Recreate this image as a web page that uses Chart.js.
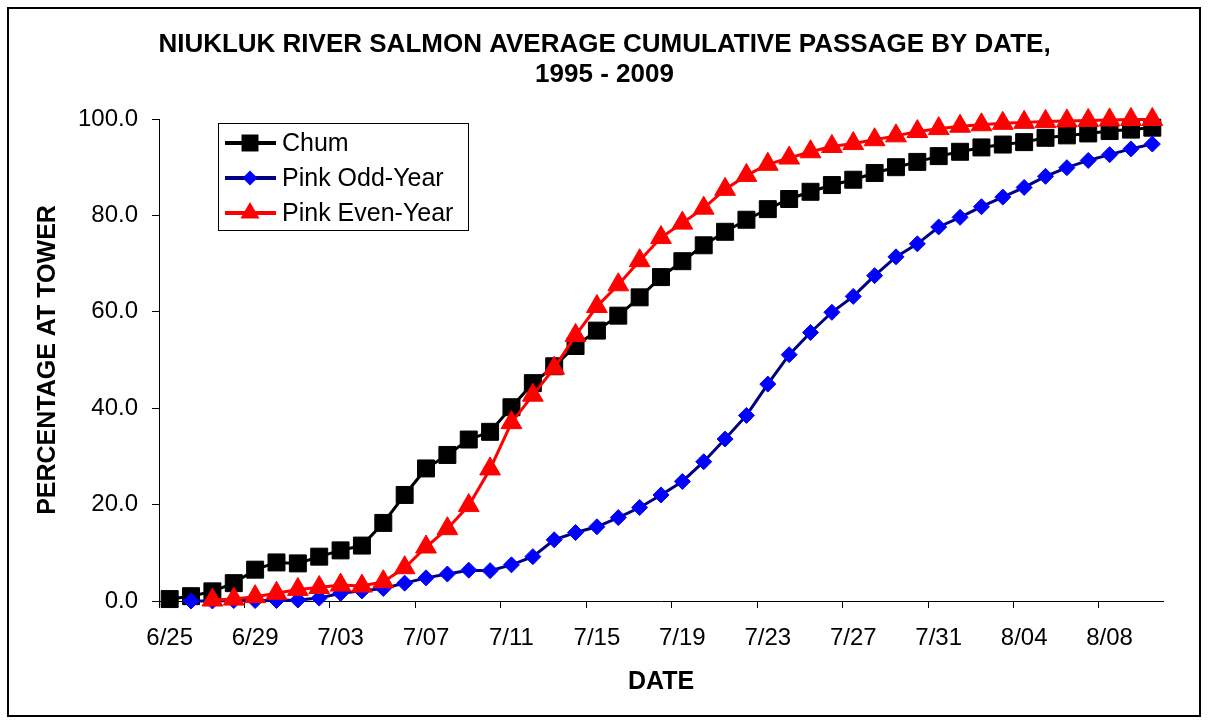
<!DOCTYPE html>
<html>
<head>
<meta charset="utf-8">
<script src="https://cdn.jsdelivr.net/npm/chart.js@4.4.1/dist/chart.umd.min.js"></script>
<style>
    body { margin: 0; background: #fff; }
    #wrap { width: 1209px; height: 723px; position: relative; }
</style>
</head>
<body>
<div id="wrap"><canvas id="passageChart"></canvas></div>
<script>
const dates = ['6/25', '6/26', '6/27', '6/28', '6/29', '6/30',
    '7/01', '7/02', '7/03', '7/04', '7/05', '7/06', '7/07', '7/08', '7/09', '7/10',
    '7/11', '7/12', '7/13', '7/14', '7/15', '7/16', '7/17', '7/18', '7/19', '7/20',
    '7/21', '7/22', '7/23', '7/24', '7/25', '7/26', '7/27', '7/28', '7/29', '7/30', '7/31',
    '8/01', '8/02', '8/03', '8/04', '8/05', '8/06', '8/07', '8/08', '8/09', '8/10'];
const tickDates = ['6/25', '6/29', '7/03', '7/07', '7/11', '7/15', '7/19', '7/23', '7/27', '7/31', '8/04', '8/08'];
const yTicks = [0, 20, 40, 60, 80, 100];
const titleLines = ['NIUKLUK RIVER SALMON AVERAGE CUMULATIVE PASSAGE BY DATE,', '1995 - 2009'];

const chum = [0.4, 1.0, 2.0, 3.7, 6.5, 8.0, 7.8, 9.2, 10.5, 11.5, 16.2, 22.0, 27.5, 30.3, 33.5, 35.1,
    40.2, 45.2, 48.7, 52.9, 56.1, 59.2, 63.0, 67.2, 70.5, 73.8, 76.6, 79.1, 81.3, 83.4, 84.9, 86.3,
    87.4, 88.8, 90.0, 91.1, 92.3, 93.2, 94.1, 94.7, 95.2, 96.1, 96.6, 97.0, 97.5, 97.8, 98.2];
const pinkOdd = [null, 0.0, 0.0, 0.1, 0.1, 0.1, 0.2, 0.6, 1.6, 2.1, 2.6, 3.7, 4.8, 5.6, 6.4, 6.3,
    7.5, 9.2, 12.7, 14.2, 15.4, 17.3, 19.4, 22.0, 24.8, 28.9, 33.6, 38.5, 45.0, 51.1, 55.7, 59.9,
    63.2, 67.5, 71.4, 74.1, 77.6, 79.6, 81.8, 83.8, 85.8, 88.1, 89.9, 91.4, 92.6, 93.8, 94.8];
const pinkEven = [null, null, 0.2, 0.4, 0.9, 1.6, 2.4, 2.8, 3.3, 3.1, 4.0, 6.9, 11.2, 15.0, 19.8, 27.4,
    37.0, 42.7, 48.3, 55.1, 61.1, 65.6, 70.6, 75.4, 78.4, 81.5, 85.4, 88.3, 90.6, 91.9, 93.2, 94.3,
    94.9, 95.7, 96.5, 97.4, 98.0, 98.5, 98.8, 99.1, 99.3, 99.5, 99.6, 99.7, 99.8, 99.9, 99.9];

const FONT = 'Arial, "Liberation Sans", sans-serif';

// draws a marker the same way for the legend box
function marker(ctx, style, x, y, r, color) {
    ctx.fillStyle = color;
    ctx.beginPath();
    if (style === 'rect') {
        const s = r * Math.SQRT1_2;
        ctx.rect(x - s, y - s, 2 * s, 2 * s);
    } else if (style === 'rectRot') {
        ctx.moveTo(x - r, y);
        ctx.lineTo(x, y - r);
        ctx.lineTo(x + r, y);
        ctx.lineTo(x, y + r);
        ctx.closePath();
    } else {
        const h = r * Math.sin(Math.PI / 3);
        ctx.moveTo(x, y - r);
        ctx.lineTo(x + h, y + r / 2);
        ctx.lineTo(x - h, y + r / 2);
        ctx.closePath();
    }
    ctx.fill();
}

const boxLegend = {
    id: 'boxLegend',
    afterDraw(chart) {
        const ctx = chart.ctx;
        const area = chart.chartArea;
        const left = area.left + 59;
        const top = area.top + 4;
        ctx.save();

        // title, centred on the whole page
        ctx.fillStyle = '#000';
        ctx.font = 'bold 26px ' + FONT;
        ctx.textAlign = 'center';
        ctx.textBaseline = 'middle';
        titleLines.forEach((t, i) => ctx.fillText(t, chart.width / 2, 45 + i * 30));

        ctx.fillStyle = '#fff';
        ctx.fillRect(left, top, 250, 107);
        ctx.strokeStyle = '#000';
        ctx.lineWidth = 1;
        ctx.strokeRect(left + 0.5, top + 0.5, 250, 107);
        chart.data.datasets.forEach((ds, i) => {
            const y = top + 20 + i * 35;
            ctx.strokeStyle = ds.borderColor;
            ctx.lineWidth = 4;
            ctx.beginPath();
            ctx.moveTo(left + 7, y);
            ctx.lineTo(left + 58, y);
            ctx.stroke();
            marker(ctx, ds.pointStyle, left + 32, y, ds.legendRadius, ds.pointBackgroundColor);
            ctx.fillStyle = '#000';
            ctx.font = '25px ' + FONT;
            ctx.textBaseline = 'middle';
            ctx.textAlign = 'left';
            ctx.fillText(ds.label, left + 64, y + 1);
        });
        // outer frame of the chart
        ctx.strokeStyle = '#000';
        ctx.lineWidth = 2;
        ctx.strokeRect(8, 8, 1192, 708);
        ctx.restore();
    }
};

new Chart(document.getElementById('passageChart'), {
    type: 'line',
    data: {
        labels: dates,
        datasets: [{
            label: 'Chum',
            data: chum,
            borderColor: '#000000',
            pointBackgroundColor: '#000000',
            pointBorderColor: '#000000',
            pointStyle: 'rect',
            pointRadius: 12,
            legendRadius: 12,
            order: 3
        }, {
            label: 'Pink Odd-Year',
            data: pinkOdd,
            borderColor: '#000080',
            pointBackgroundColor: '#0000FF',
            pointBorderColor: '#0000FF',
            pointStyle: 'rectRot',
            pointRadius: 8,
            legendRadius: 7.5,
            order: 2
        }, {
            label: 'Pink Even-Year',
            data: pinkEven,
            borderColor: '#FF0000',
            pointBackgroundColor: '#FF0000',
            pointBorderColor: '#FF0000',
            pointStyle: 'triangle',
            pointRadius: 12,
            legendRadius: 11,
            order: 1
        }]
    },
    options: {
        responsive: true,
        maintainAspectRatio: false,
        animation: false,
        datasets: {
            line: {
                borderWidth: 3,
                tension: 0,
                pointBorderWidth: 1,
                clip: false
            }
        },
        layout: {
            padding: { left: 0, right: 46, top: 119, bottom: 0 }
        },
        plugins: {
            legend: { display: false },
            tooltip: { enabled: false },
            title: { display: false }
        },
        scales: {
            x: {
                offset: true,
                grid: {
                    offset: true,
                    drawOnChartArea: false,
                    tickLength: 7,
                    tickColor: (c) => (c.index % 4 === 0 ? '#000' : 'rgba(0,0,0,0)')
                },
                border: { display: true, color: '#000', width: 1 },
                ticks: {
                    autoSkip: false,
                    maxRotation: 0,
                    padding: 16,
                    color: '#000',
                    font: { family: FONT, size: 24 },
                    callback: (v, i) => (tickDates.includes(dates[i]) ? dates[i] : '')
                },
                title: {
                    display: true,
                    text: 'DATE',
                    color: '#000',
                    font: { family: FONT, size: 25, weight: 'bold' },
                    padding: { top: 0, bottom: 26 }
                },
                afterFit: (axis) => { axis.height = 122; }
            },
            y: {
                min: 0,
                max: 100,
                afterBuildTicks: (axis) => { axis.ticks = yTicks.map(v => ({ value: v })); },
                grid: {
                    drawOnChartArea: false,
                    tickLength: 7,
                    tickColor: '#000'
                },
                border: { display: true, color: '#000', width: 1 },
                ticks: {
                    padding: 14,
                    color: '#000',
                    font: { family: FONT, size: 24 },
                    callback: (v) => Number(v).toFixed(1)
                },
                title: {
                    display: true,
                    text: 'PERCENTAGE AT TOWER',
                    color: '#000',
                    font: { family: FONT, size: 25, weight: 'bold' },
                    padding: { top: 33, bottom: 0 }
                },
                afterFit: (axis) => { axis.width = 159; }
            }
        }
    },
    plugins: [boxLegend]
});
</script>
</body>
</html>
